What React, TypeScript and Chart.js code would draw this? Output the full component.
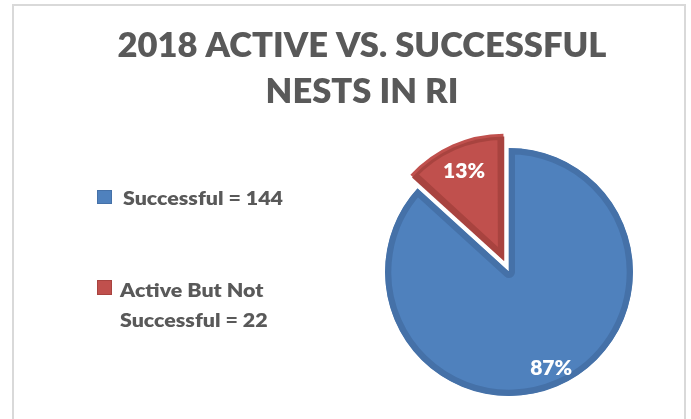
import React, { useEffect, useRef } from 'react';
import { Chart, registerables } from 'chart.js';

Chart.register(...registerables);

// ---- data ----
const titleLines = ['2018 ACTIVE VS. SUCCESSFUL', 'NESTS IN RI'];
const categories = ['Successful', 'Active But Not Successful'];
const counts = [144, 22];
const legendLines = [['Successful = 144'], ['Active But Not', 'Successful = 22']];

// ---- style ----
const W = 691;
const H = 419;
const FONT = 'Lato, "Open Sans", "Liberation Sans", sans-serif';
const CAP = 0.7165; // Lato cap-height / em
const WEIGHT = '800';
const fillColors = ['#4F81BD', '#C0504D'];
const borderColors = ['#4571A8', '#A8433F'];
const textGray = '#595959';

const titleStyle = { cx: 362, baselines: [57, 103], cap: 24, targetWidth: 489 };
const legendStyle = {
  markers: [
    { x: 97, y: 190, w: 15, h: 14 },
    { x: 97, y: 280, w: 15, h: 15 },
  ],
  textX: [123, 120],
  baselines: [[205], [297, 327]],
  cap: 14,
  refWidth: 160,
};
const labelStyle = { radial: [0.84, 0.77], cap: 15, refWidth: 42 };

function fontFor(cap: number) {
  return `${WEIGHT} ${(cap / CAP).toFixed(2)}px ${FONT}`;
}

function fittedText(
  ctx: CanvasRenderingContext2D,
  text: string,
  x: number,
  baseline: number,
  sx: number,
  align: CanvasTextAlign
) {
  ctx.save();
  ctx.translate(x, baseline);
  ctx.scale(sx, 1);
  ctx.textAlign = align;
  ctx.textBaseline = 'alphabetic';
  ctx.fillText(text, 0, 0);
  ctx.restore();
}

const decorPlugin = {
  id: 'decor',
  beforeDraw(chart: any) {
    const ctx: CanvasRenderingContext2D = chart.ctx;
    ctx.save();
    ctx.fillStyle = '#ffffff';
    ctx.fillRect(0, 0, W, H);
    ctx.strokeStyle = '#D9D9D9';
    ctx.lineWidth = 2;
    ctx.beginPath();
    ctx.moveTo(13, H + 5);
    ctx.lineTo(13, 5);
    ctx.lineTo(685, 5);
    ctx.lineTo(685, H + 5);
    ctx.stroke();
    ctx.restore();
  },
  afterDatasetsDraw(chart: any) {
    const ctx: CanvasRenderingContext2D = chart.ctx;
    const meta = chart.getDatasetMeta(0);
    const total = counts.reduce((a, b) => a + b, 0);
    ctx.save();
    ctx.font = fontFor(labelStyle.cap);
    const sx = labelStyle.refWidth / ctx.measureText('87%').width;
    ctx.fillStyle = '#ffffff';
    meta.data.forEach((arc: any, i: number) => {
      const p = arc.getProps(['x', 'y', 'startAngle', 'endAngle', 'outerRadius'], true);
      const mid = (p.startAngle + p.endAngle) / 2;
      const circ = p.endAngle - p.startAngle;
      const off = (arc.options.offset || 0) / 4;
      const shift = off + off * (1 - Math.sin(Math.min(Math.PI, circ)));
      const cx = p.x + Math.cos(mid) * shift;
      const cy = p.y + Math.sin(mid) * shift;
      const r = p.outerRadius * labelStyle.radial[i];
      const lx = cx + Math.cos(mid) * r;
      const ly = cy + Math.sin(mid) * r;
      const pct = Math.round((counts[i] / total) * 100) + '%';
      fittedText(ctx, pct, lx, ly + labelStyle.cap / 2, sx, 'center');
    });
    ctx.restore();
  },
  afterDraw(chart: any) {
    const ctx: CanvasRenderingContext2D = chart.ctx;
    ctx.save();
    // title
    ctx.fillStyle = textGray;
    ctx.font = fontFor(titleStyle.cap);
    const tsx = titleStyle.targetWidth / ctx.measureText(titleLines[0]).width;
    titleLines.forEach((line, i) => {
      fittedText(ctx, line, titleStyle.cx, titleStyle.baselines[i], tsx, 'center');
    });
    // legend
    ctx.font = fontFor(legendStyle.cap);
    const lsx = legendStyle.refWidth / ctx.measureText(legendLines[0][0]).width;
    legendLines.forEach((lines, i) => {
      const m = legendStyle.markers[i];
      ctx.fillStyle = fillColors[i];
      ctx.fillRect(m.x, m.y, m.w, m.h);
      ctx.strokeStyle = borderColors[i];
      ctx.lineWidth = 1;
      ctx.strokeRect(m.x + 0.5, m.y + 0.5, m.w - 1, m.h - 1);
      ctx.fillStyle = textGray;
      lines.forEach((t, j) => {
        fittedText(ctx, t, legendStyle.textX[i], legendStyle.baselines[i][j], lsx, 'left');
      });
    });
    ctx.restore();
  },
};

export default function App() {
  const ref = useRef<HTMLCanvasElement | null>(null);
  useEffect(() => {
    if (!ref.current) return;
    const chart = new Chart(ref.current, {
      type: 'pie',
      data: {
        labels: categories,
        datasets: [
          {
            data: counts,
            backgroundColor: fillColors,
            borderColor: borderColors,
            borderWidth: 6,
            borderAlign: 'inner',
            offset: [0, 50],
          } as any,
        ],
      },
      options: {
        animation: false,
        responsive: false,
        devicePixelRatio: 1,
        events: [],
        radius: 124,
        layout: { padding: { left: 376, right: 49, top: 139, bottom: 14 } },
        plugins: {
          legend: { display: false },
          title: { display: false },
          tooltip: { enabled: false },
        },
      } as any,
      plugins: [decorPlugin],
    });
    if ((document as any).fonts && (document as any).fonts.load) {
      (document as any).fonts.load(`${WEIGHT} 20px Lato`).then(() => chart.draw()).catch(() => {});
    }
    return () => chart.destroy();
  }, []);
  return (
    <div style={{ position: 'fixed', left: 0, top: 0, width: W, height: H, background: '#fff' }}>
      <canvas ref={ref} width={W} height={H} style={{ display: 'block', width: W, height: H }} />
    </div>
  );
}
